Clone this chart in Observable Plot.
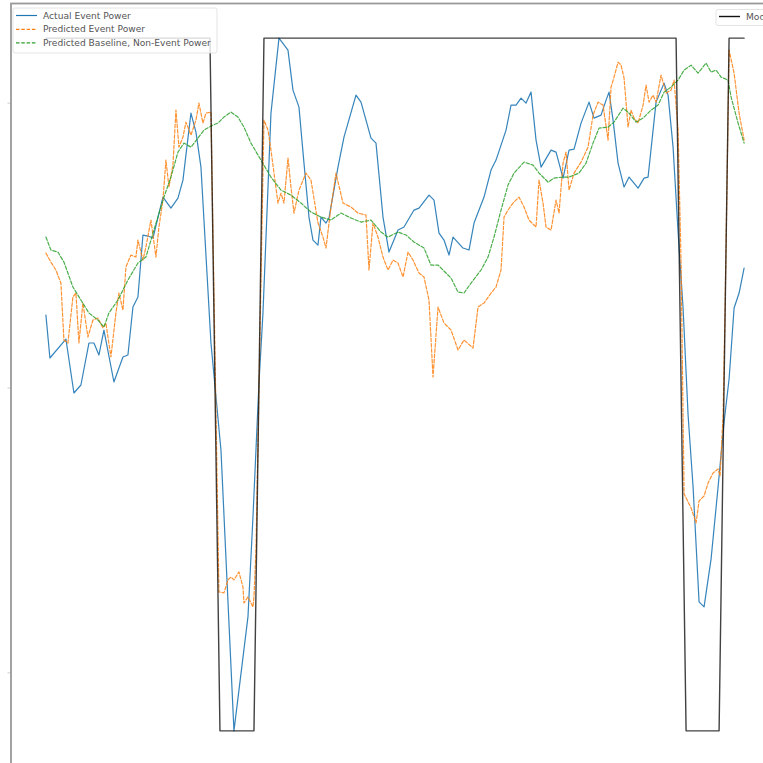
<!DOCTYPE html>
<html><head><meta charset="utf-8">
<script src="https://cdn.jsdelivr.net/npm/d3@7"></script>
<script src="https://cdn.jsdelivr.net/npm/@observablehq/plot@0.6"></script>
<style>
html,body{margin:0;padding:0;background:#fff;}
#wrap{width:763px;height:763px;overflow:hidden;position:relative;background:#fff;}
</style></head><body><div id="wrap"></div>
<script>
// Time (hours) and power readings
const actualT = [0.1,0.5,2.1,2.9,3.6,4.4,4.9,5.4,5.9,6.9,7.8,8.3,8.8,9.3,9.8,10.3,10.8,11.8,12.6,13.3,13.8,14.6,15.1,15.6,16.6,17.6,18.9,20.3,20.8,21.4,21.8,22.6,23.4,24.3,24.8,25.4,25.9,26.4,26.8,27.3,27.6,28.1,28.4,29.3,29.9,31.1,31.6,32.6,33.1,33.8,34.4,35.3,35.9,36.9,37.4,38.4,38.9,39.4,39.9,40.4,40.8,41.8,42.4,42.9,43.9,44.6,45.1,46.1,46.6,47.1,47.6,48.1,48.6,49.1,49.6,50.6,51.1,51.8,52.4,52.9,53.6,54.4,54.9,55.6,56.1,56.4,56.8,57.3,57.9,58.4,59.3,59.9,60.3,61.1,61.9,62.3,62.8,63.3,63.8,64.3,64.8,65.4,65.9,66.6,67.3,67.9,68.4,68.9,69.4,69.9];
const actualP = [416,373,392,338,346,388,388,376,401,349,374,376,424,434,496,495,493,534,523,533,551,618,599,564,388,281,0,114,214,348,418,618,693,681,641,624,568,514,491,486,514,508,513,564,594,636,629,593,588,514,479,501,504,521,523,536,531,498,491,476,494,483,481,508,534,561,571,601,626,626,633,628,639,591,564,581,579,553,581,582,608,629,613,616,631,639,611,568,544,554,543,553,554,629,648,636,584,499,423,316,244,129,124,172,244,309,352,423,438,463];

const predT = [0.1,0.6,1.1,1.6,1.9,2.3,2.8,3.1,3.4,3.8,4.3,4.8,5.3,5.8,6.1,6.6,7.1,7.4,7.8,8.1,8.6,9.1,9.3,9.8,10.1,10.6,11.1,11.4,11.8,12.1,12.4,12.8,13.1,13.4,13.8,14.1,14.6,15.1,15.4,15.8,16.1,16.6,17.4,17.9,18.3,18.6,18.9,19.4,19.8,19.9,20.3,20.8,20.9,21.1,21.9,22.3,22.6,23.3,23.6,23.9,24.3,24.6,24.9,25.4,26.1,26.6,27.3,27.8,28.1,28.6,29.1,29.8,30.6,31.3,32.1,32.4,32.8,33.3,33.8,34.3,34.8,35.3,35.8,36.3,36.8,37.4,37.9,38.4,38.8,39.3,39.9,40.6,41.3,41.9,42.8,43.3,43.9,44.6,45.1,45.6,45.9,46.3,46.8,47.4,47.9,48.4,49.1,49.4,49.8,50.1,50.6,51.1,51.4,51.8,52.1,52.4,52.9,53.6,54.3,54.8,55.3,55.8,56.3,56.6,56.9,57.3,57.6,57.9,58.3,58.6,58.9,59.3,59.8,60.1,60.4,60.8,61.1,61.6,62.1,62.6,62.9,63.3,63.6,63.9,64.6,65.1,65.4,65.9,66.3,66.8,67.3,67.5,67.8,68.0,68.4,68.9,69.4,69.9];
const predP = [478,469,461,448,391,388,434,438,388,428,394,411,413,403,408,374,418,438,421,464,476,474,491,471,484,511,474,504,531,571,544,566,621,584,594,609,596,611,628,608,618,619,139,138,151,154,151,159,144,128,134,124,134,181,611,601,581,528,538,528,573,544,518,541,558,551,508,494,483,524,558,528,524,518,516,461,508,494,474,461,471,468,454,479,471,458,454,431,354,424,408,401,381,391,383,424,428,438,444,461,514,521,528,534,524,511,504,551,528,504,501,531,518,568,579,541,558,569,584,616,629,626,591,644,654,669,666,653,604,621,613,608,626,646,629,636,629,656,638,641,651,601,468,237,223,208,230,235,248,258,262,255,316,423,681,658,618,591];

const baseT = [0.1,0.6,1.3,1.9,2.8,3.6,4.4,5.3,5.9,6.4,7.3,8.3,9.3,10.1,10.9,11.9,12.6,13.3,13.9,14.6,15.3,15.9,16.8,17.3,17.9,18.6,19.3,19.9,20.6,21.6,22.6,23.6,24.6,25.6,26.6,27.6,28.6,29.6,30.6,31.6,32.6,33.6,34.3,35.3,36.1,36.9,37.9,38.6,39.3,40.1,40.6,41.3,41.9,42.6,43.6,44.3,44.9,45.6,46.3,46.9,47.9,48.8,49.4,50.3,50.9,51.8,52.4,53.4,54.1,54.8,55.4,56.3,56.9,57.8,58.4,59.1,59.8,60.6,61.3,61.9,62.6,63.3,63.9,64.6,65.3,66.1,66.6,67.1,67.6,68.3,68.6,69.3,69.9];
const baseP = [494,481,479,469,444,431,418,411,404,418,431,451,468,474,501,534,554,579,588,584,593,601,606,608,614,619,614,604,588,571,554,541,536,528,519,514,511,518,513,509,511,499,494,499,496,489,483,466,466,458,453,439,438,448,461,474,494,521,546,558,569,566,558,549,553,554,554,558,568,588,603,604,609,623,618,609,613,621,626,639,644,651,661,666,658,668,659,661,654,651,634,608,588];

const modeT = [0.1,16.5,17.5,20.9,21.9,63.1,64.1,67.4,68.4,69.9];
const modeV = [1,1,0,0,1,1,0,0,1,1];

const yTickValues = [58,343,628];

const seriesNames = ["Actual Event Power","Predicted Event Power","Predicted Baseline, Non-Event Power"];
const modeName = "Mode";

const rows = (T, P) => T.map((t, i) => ({t, p: P[i]}));
const actual = rows(actualT, actualP);
const pred = rows(predT, predP);
const base = rows(baseT, baseP);

const [pMin, pMax] = d3.extent([...actualP, ...predP, ...baseP]);
const pPad = 0.05 * (pMax - pMin);
const [tMin, tMax] = d3.extent([...actualT, ...predT, ...baseT, ...modeT]);
const tPad = 0.05 * (tMax - tMin);
// twin axis: mode 0..1 autoscaled onto same plot height
const mode = modeT.map((t, i) => ({t, p: pMin + modeV[i] * (pMax - pMin)}));

const C = {blue: "#1f77b4", orange: "#ff7f0e", green: "#2ca02c", black: "#111"};

const chart = Plot.plot({
  width: 790, height: 775,
  marginLeft: 10.5, marginRight: 11.5, marginTop: 3, marginBottom: 10,
  style: {maxWidth: "none", background: "#fff"},
  x: {domain: [tMin - tPad, tMax + tPad], axis: null},
  y: {domain: [pMin - pPad, pMax + pPad], axis: null},
  marks: [
    Plot.axisY(yTickValues, {anchor: "left", tickSize: 3, tickFormat: () => "", label: null, stroke: "#ccc"}),
    Plot.line(actual, {x: "t", y: "p", stroke: C.blue, strokeWidth: 1.2, strokeOpacity: 0.9}),
    Plot.line(pred, {x: "t", y: "p", stroke: C.orange, strokeWidth: 1.2, strokeOpacity: 0.85, strokeDasharray: "3.5,1.8"}),
    Plot.line(base, {x: "t", y: "p", stroke: C.green, strokeWidth: 1.2, strokeOpacity: 0.85, strokeDasharray: "3.5,1.8"}),
    Plot.line(mode, {x: "t", y: "p", stroke: C.black, strokeWidth: 1.4, strokeOpacity: 0.8}),
    Plot.frame({stroke: "#999", strokeWidth: 1.8})
  ]
});

const svg = d3.select(chart);
// Legend 1 (upper left)
const lg = svg.append("g").attr("text-anchor", "start");
lg.append("rect").attr("x", 13).attr("y", 8).attr("width", 204).attr("height", 45).attr("rx", 2)
  .attr("fill", "#fff").attr("fill-opacity", 0.8).attr("stroke", "#ddd").attr("stroke-width", 0.8);
const styles = [
  {c: C.blue, d: null},
  {c: C.orange, d: "3.5,1.8"},
  {c: C.green, d: "3.5,1.8"}
];
const rowsY = [15.5, 29.3, 42.8];
seriesNames.forEach((name, i) => {
  const l = lg.append("line").attr("x1", 16).attr("x2", 37).attr("y1", rowsY[i]).attr("y2", rowsY[i])
    .attr("stroke", styles[i].c).attr("stroke-width", 1.2);
  if (styles[i].d) l.attr("stroke-dasharray", styles[i].d);
  lg.append("text").attr("x", 43).attr("y", rowsY[i]).attr("dy", "0.35em").attr("text-anchor", "start")
    .attr("font-family", "DejaVu Sans").attr("font-size", 9.1).attr("fill", "#555").text(name);
});
// Legend 2 (upper right, twin axis)
const lg2 = svg.append("g").attr("text-anchor", "start");
lg2.append("rect").attr("x", 716).attr("y", 9.5).attr("width", 58).attr("height", 16).attr("rx", 2)
  .attr("fill", "#fff").attr("fill-opacity", 0.8).attr("stroke", "#ddd").attr("stroke-width", 0.8);
lg2.append("line").attr("x1", 719).attr("x2", 740).attr("y1", 16.5).attr("y2", 16.5)
  .attr("stroke", C.black).attr("stroke-width", 1.4);
lg2.append("text").attr("x", 746).attr("y", 16.5).attr("dy", "0.35em").attr("text-anchor", "start")
  .attr("font-family", "DejaVu Sans").attr("font-size", 9.1).attr("fill", "#555").text(modeName);

document.getElementById("wrap").appendChild(chart);
</script>
</body></html>
